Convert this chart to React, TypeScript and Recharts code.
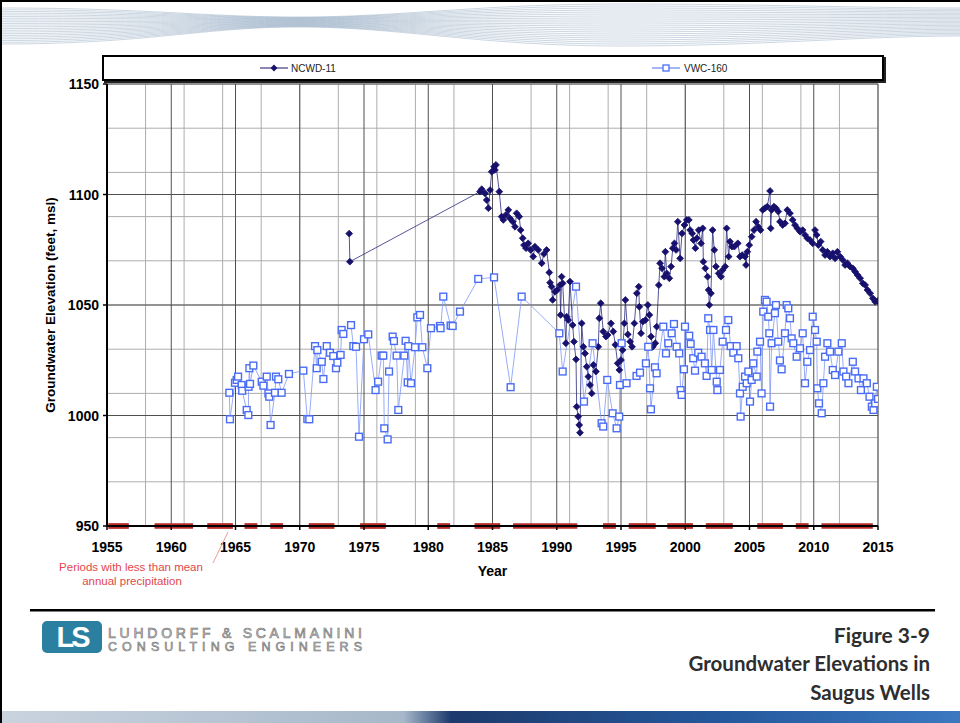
import React from 'react';
import { ComposedChart, Line, XAxis, YAxis, CartesianGrid, ReferenceArea, Legend } from 'recharts';

// NCWD-11 observations: [decimal year, elevation ft msl]
const ncwd11: [number, number][] = [
  [1973.85, 1082.3], [1973.9, 1069.6],
  [1984.03, 1101.3], [1984.16, 1102.4], [1984.42, 1100.5], [1984.55, 1097.5], [1984.68, 1093.8], [1984.81, 1102],
  [1984.94, 1110.3], [1985.12, 1112.6], [1985.19, 1111.1], [1985.27, 1113.4], [1985.53, 1101.3], [1985.71, 1090],
  [1985.84, 1088.5], [1986.05, 1090.8], [1986.23, 1093], [1986.36, 1089.2], [1986.57, 1087.7], [1986.75, 1085.4],
  [1986.88, 1091.5], [1987.08, 1090], [1987.19, 1083.9], [1987.35, 1080.2], [1987.45, 1077.1], [1987.61, 1075.7],
  [1987.78, 1077.9], [1987.97, 1074.9], [1988.17, 1071.9], [1988.3, 1076.4], [1988.56, 1074.9], [1988.83, 1068.9],
  [1989.0, 1073.1], [1989.21, 1074.9], [1989.42, 1064.7], [1989.48, 1060.1], [1989.6, 1058.3], [1989.68, 1052.3],
  [1989.86, 1056], [1990.04, 1056.8], [1990.25, 1059], [1990.3, 1045.5], [1990.38, 1062.8], [1990.46, 1059.8],
  [1990.71, 1032.7], [1990.77, 1044.7], [1990.89, 1043.2], [1991.03, 1060.6], [1991.24, 1040.9], [1991.34, 1033.4],
  [1991.5, 1025.4], [1991.55, 1004], [1991.67, 999.5], [1991.75, 995.7], [1991.81, 992.2], [1991.94, 1041.7],
  [1992.07, 1031.1], [1992.2, 1028.1], [1992.33, 1022.1], [1992.46, 1017.6], [1992.59, 1013.8], [1992.72, 1010],
  [1992.85, 1022.9], [1993.05, 1019.9], [1993.23, 1031.1], [1993.31, 1044], [1993.42, 1050.8], [1993.62, 1038],
  [1993.83, 1035.7], [1993.96, 1036.4], [1994.22, 1041.7], [1994.4, 1038], [1994.56, 1032], [1994.74, 1023.6],
  [1994.87, 1020.6], [1995.0, 1025.1], [1995.13, 1029.6], [1995.26, 1041.7], [1995.34, 1052.3], [1995.53, 1036.7],
  [1995.71, 1033.4], [1995.86, 1031.1], [1996.04, 1041.7], [1996.23, 1055.3], [1996.38, 1058.3], [1996.43, 1049.2],
  [1996.56, 1037.2], [1996.7, 1042.5], [1996.9, 1043.2], [1997.09, 1050], [1997.21, 1045.5], [1997.34, 1035.7],
  [1997.47, 1031.1], [1997.67, 1032.7], [1997.78, 1040.2], [1997.94, 1059], [1998.04, 1068.9], [1998.19, 1066.6],
  [1998.37, 1062.8], [1998.45, 1074.1], [1998.56, 1064.3], [1998.76, 1062.1], [1998.9, 1067.4], [1999.03, 1075.7],
  [1999.16, 1077.9], [1999.29, 1074.9], [1999.42, 1087.7], [1999.6, 1071.1], [1999.75, 1082.4], [1999.94, 1086.2],
  [2000.12, 1088.5], [2000.28, 1088.5], [2000.38, 1083.9], [2000.54, 1082.4], [2000.64, 1079.4], [2000.79, 1075.7],
  [2000.9, 1080.2], [2001.05, 1083.9], [2001.23, 1077.9], [2001.36, 1084.7], [2001.41, 1069.6], [2001.56, 1066.6],
  [2001.74, 1062.8], [2001.82, 1056.8], [2001.87, 1050], [2002.0, 1055.3], [2002.13, 1083.9], [2002.26, 1074.9],
  [2002.39, 1067.4], [2002.6, 1064.3], [2002.78, 1062.8], [2002.91, 1065.8], [2003.11, 1067.4], [2003.22, 1084.7],
  [2003.38, 1071.9], [2003.48, 1078.7], [2003.64, 1076.4], [2003.82, 1076.4], [2004.09, 1077.9], [2004.26, 1071.9],
  [2004.43, 1072.6], [2004.65, 1071.9], [2004.73, 1068.1], [2004.83, 1074.1], [2004.98, 1077.1], [2005.17, 1080.9],
  [2005.35, 1083.9], [2005.51, 1087.7], [2005.68, 1085.4], [2005.86, 1083.9], [2006.03, 1093], [2006.2, 1093.8],
  [2006.38, 1094.5], [2006.6, 1101.6], [2006.65, 1084.7], [2006.72, 1093], [2006.9, 1094.5], [2007.06, 1093.8],
  [2007.24, 1092.3], [2007.37, 1087.7], [2007.58, 1086.2], [2007.76, 1087], [2007.94, 1093], [2008.15, 1091.5],
  [2008.36, 1088.5], [2008.54, 1086.2], [2008.72, 1084.7], [2008.93, 1083.2], [2009.14, 1083.9], [2009.32, 1081.7],
  [2009.5, 1080.2], [2009.71, 1079.4], [2009.92, 1077.9], [2010.1, 1083.9], [2010.23, 1081.7], [2010.36, 1077.1],
  [2010.54, 1078.7], [2010.7, 1074.9], [2010.88, 1072.6], [2011.06, 1074.1], [2011.27, 1071.9], [2011.48, 1073.4],
  [2011.66, 1071.1], [2011.84, 1074.1], [2012.05, 1071.9], [2012.26, 1070.4], [2012.44, 1068.1], [2012.62, 1068.9],
  [2012.82, 1067.4], [2013.04, 1066.6], [2013.22, 1065.1], [2013.4, 1063.6], [2013.61, 1062.1], [2013.82, 1059.8],
  [2014.0, 1059], [2014.18, 1056.8], [2014.39, 1055.3], [2014.6, 1053], [2014.78, 1051.5], [2014.96, 1051.8],
];

// VWC-160 observations: [decimal year, elevation ft msl]
const vwc160: [number, number][] = [
  [1964.52, 1010.3], [1964.57, 998.3], [1964.96, 1014.8], [1965.09, 1016.1], [1965.2, 1017.6], [1965.48, 1013.8],
  [1965.52, 1011.2], [1965.87, 1002.5], [1966.0, 1000.2], [1966.02, 1013], [1966.08, 1021.4], [1966.13, 1014.3],
  [1966.39, 1022.6], [1967.04, 1015.3], [1967.17, 1013.5], [1967.43, 1017.6], [1967.56, 1010], [1967.63, 1008.5],
  [1967.73, 995.7], [1968.07, 1010.3], [1968.15, 1017.6], [1968.33, 1016.4], [1968.59, 1010.3], [1969.16, 1018.8],
  [1970.28, 1020.3], [1970.59, 998.4], [1970.74, 998.3], [1971.19, 1031.4], [1971.32, 1021.4], [1971.37, 1029.6],
  [1971.71, 1024.3], [1971.84, 1016.5], [1972.1, 1031.4], [1972.35, 1028.4], [1972.61, 1026.9], [1972.82, 1021.4],
  [1972.93, 1023.9], [1973.18, 1027.4], [1973.26, 1038.7], [1973.39, 1036.9], [1973.99, 1040.9], [1974.17, 1031.4],
  [1974.38, 1031.1], [1974.61, 990.4], [1975.0, 1034.5], [1975.33, 1036.7], [1975.9, 1011.5], [1976.1, 1015.3],
  [1976.37, 1027.1], [1976.5, 1027.1], [1976.58, 994.2], [1976.84, 989.2], [1976.95, 1019.9], [1977.23, 1035.7],
  [1977.33, 1033.7], [1977.54, 1027.1], [1977.67, 1002.5], [1978.14, 1027.1], [1978.24, 1033.8], [1978.4, 1015],
  [1978.45, 1031.4], [1978.66, 1014.6], [1978.97, 1030.9], [1979.15, 1044.4], [1979.36, 1045.5], [1979.54, 1030.9],
  [1979.93, 1021.4], [1980.21, 1039.5], [1980.91, 1040.5], [1980.96, 1039.5], [1981.17, 1053.8], [1981.74, 1040.7],
  [1981.9, 1040.5], [1982.47, 1047], [1983.89, 1061.8], [1985.12, 1062.5], [1986.41, 1012.8], [1987.27, 1053.8],
  [1990.2, 1037.2], [1990.46, 1019.9], [1991.5, 1058.3], [1992.12, 1006.3], [1992.79, 1032.7], [1993.49, 996.5],
  [1993.62, 995], [1993.93, 1016.1], [1994.35, 1001], [1994.66, 994.2], [1994.86, 999.5], [1994.92, 1013.8],
  [1995.05, 1032.7], [1995.43, 1014.6], [1996.21, 1017.9], [1996.48, 1019.4], [1996.94, 1023.6], [1997.12, 1031.1],
  [1997.26, 1012.3], [1997.33, 1002.8], [1997.64, 1021.8], [1997.77, 1019.1], [1998.29, 1040.2], [1998.5, 1028.1],
  [1998.68, 1032.7], [1998.94, 1037.2], [1999.12, 1041.4], [1999.33, 1031.1], [1999.53, 1028.1], [1999.64, 1011.5],
  [1999.72, 1009.3], [1999.9, 1020.9], [1999.98, 1040.2], [2000.31, 1036.1], [2000.42, 1032.4], [2000.62, 1025.9],
  [2000.76, 1020.3], [2001.01, 1028.4], [2001.27, 1026.6], [2001.53, 1023.6], [2001.66, 1017.9], [2001.79, 1044],
  [2001.93, 1038.7], [2002.06, 1020.6], [2002.19, 1038.7], [2002.45, 1015.3], [2002.5, 1011.5], [2002.7, 1020.6],
  [2002.91, 1033.4], [2003.17, 1038.7], [2003.35, 1043.2], [2003.53, 1031.4], [2003.74, 1028.4], [2004.0, 1031.4],
  [2004.13, 1025.9], [2004.26, 1010], [2004.31, 999.5], [2004.47, 1013], [2004.65, 1017.6], [2004.78, 1014.6],
  [2004.91, 1019.9], [2005.04, 1006.3], [2005.17, 1016.1], [2005.29, 1023.6], [2005.56, 1017.6], [2005.61, 1028.9],
  [2005.82, 1033.4], [2005.94, 1010], [2006.07, 1047], [2006.2, 1052.3], [2006.33, 1051.5], [2006.46, 1044.7],
  [2006.54, 1037.2], [2006.6, 1004], [2006.72, 1032.7], [2006.98, 1046.3], [2007.06, 1050], [2007.24, 1033.4],
  [2007.37, 1024.9], [2007.5, 1020.9], [2007.76, 1037.2], [2007.89, 1050], [2008.02, 1048.5], [2008.15, 1044],
  [2008.28, 1034.9], [2008.41, 1032.7], [2008.67, 1026.6], [2008.93, 1030.4], [2009.14, 1037.2], [2009.32, 1014.6],
  [2009.5, 1024.3], [2009.71, 1029.6], [2009.92, 1044.7], [2010.1, 1038.7], [2010.23, 1033.4], [2010.28, 1012.3],
  [2010.41, 1005.5], [2010.62, 1001], [2010.75, 1014.6], [2010.88, 1026.6], [2011.06, 1032.7], [2011.27, 1028.9],
  [2011.48, 1020.6], [2011.66, 1018.3], [2011.92, 1028.9], [2012.18, 1032.7], [2012.31, 1019.9], [2012.52, 1017.6],
  [2012.7, 1014.6], [2013.04, 1024.3], [2013.22, 1019.9], [2013.48, 1016.8], [2013.67, 1011.5], [2013.87, 1016.8],
  [2014.13, 1014.6], [2014.34, 1008.5], [2014.52, 1004], [2014.65, 1002.5], [2014.78, 1005.5], [2014.91, 1013],
  [2015.0, 1007.5],
];

// Periods with less than mean annual precipitation: [start year, end year]
const dryPeriods: [number, number][] = [
  [1955.1, 1956.7], [1958.7, 1961.7], [1962.8, 1964.8], [1965.7, 1966.7], [1967.7, 1968.7], [1970.7, 1972.7],
  [1974.7, 1976.7], [1980.7, 1981.7], [1983.6, 1985.6], [1986.6, 1991.6], [1993.6, 1994.6], [1995.6, 1997.7],
  [1998.6, 2000.6], [2001.6, 2003.7], [2005.6, 2007.6], [2008.6, 2009.6], [2010.6, 2014.6],
];

const xTicks = [1955, 1960, 1965, 1970, 1975, 1980, 1985, 1990, 1995, 2000, 2005, 2010, 2015];
const yTicks = [950, 1000, 1050, 1100, 1150];
const xMinor = Array.from({ length: 61 }, (_, i) => 1955 + i);
const yMinor = Array.from({ length: 21 }, (_, i) => 950 + i * 10);

const ncwdData = ncwd11.map(([x, v]) => ({ x, v }));
const vwcData = vwc160.map(([x, v]) => ({ x, v }));

const NAVY = '#17106c';
const BLUE = '#4a6cf4';
const FONT = '"Liberation Sans", Arial, sans-serif';
const TITLE_FONT = "Lato, 'Open Sans', sans-serif";

const Diamond = (p: any) => {
  const { cx, cy, index } = p;
  if (cx == null || cy == null) return <g key={`nd${index}`} />;
  const s = 3.4;
  return (
    <path key={`nd${index}`} d={`M${cx},${cy - s}L${cx + s},${cy}L${cx},${cy + s}L${cx - s},${cy}Z`}
      fill={NAVY} stroke={NAVY} strokeWidth={0.8} />
  );
};

const Square = (p: any) => {
  const { cx, cy, index } = p;
  if (cx == null || cy == null) return <g key={`vs${index}`} />;
  return (
    <rect key={`vs${index}`} x={cx - 3.4} y={cy - 3.4} width={6.8} height={6.8}
      fill="#ffffff" stroke={BLUE} strokeWidth={1.4} />
  );
};

const XTick = ({ x, y, payload }: any) => (
  <text x={x} y={y} dy={20} textAnchor="middle" fontFamily={FONT} fontWeight="bold" fontSize={14} fill="#000">
    {payload.value}
  </text>
);

const YTick = ({ x, y, payload }: any) => (
  <text x={x - 2} y={y} dy={5} textAnchor="end" fontFamily={FONT} fontWeight="bold" fontSize={14} fill="#000">
    {payload.value}
  </text>
);

const LegendBox = () => (
  <div style={{
    width: 782, height: 26, boxSizing: 'border-box', border: '2px solid #000',
    boxShadow: '2px 2px 0 #222', background: '#fff',
  }}>
    <svg width={778} height={22} style={{ display: 'block' }}>
      <line x1={156} x2={184} y1={11} y2={11} stroke={NAVY} strokeWidth={1} />
      <path d="M170,7.6L173.4,11L170,14.4L166.6,11Z" fill={NAVY} />
      <text x={187} y={15} fontFamily={FONT} fontSize={10} fill="#222">NCWD-11</text>
      <line x1={548} x2={576} y1={11} y2={11} stroke={BLUE} strokeWidth={1} />
      <rect x={559} y={8} width={6} height={6} fill="#fff" stroke={BLUE} strokeWidth={1.3} />
      <text x={580} y={15} fontFamily={FONT} fontSize={10} fill="#222">VWC-160</text>
    </svg>
  </div>
);

const wavePaths = Array.from({ length: 22 }, (_, i) => {
  const t = i / 21;
  const y0 = 8 + 36 * t;
  const yh = 17 + 10 * t;
  const yr = 4 + 42 * t;
  const ye = 8 + 28 * t;
  return `M0,${y0} C150,${y0} 200,${yh} 300,${yh} C400,${yh} 480,${yr} 620,${yr} S860,${ye} 960,${ye}`;
});

export default function App() {
  return (
    <div style={{ position: 'absolute', left: 0, top: 0, width: 960, height: 723, background: '#fff', overflow: 'hidden' }}>
      <svg width={960} height={723} style={{ position: 'absolute', left: 0, top: 0 }}>
        <defs>
          <linearGradient id="band" x1="0" x2="1" y1="0" y2="0">
            <stop offset="0" stopColor="#c9d3de" />
            <stop offset="0.42" stopColor="#a7b8ca" />
            <stop offset="0.47" stopColor="#1c3a6c" />
            <stop offset="0.75" stopColor="#24589c" />
            <stop offset="1" stopColor="#3b78c0" />
          </linearGradient>
        </defs>
        {wavePaths.map((d, i) => (
          <path key={i} d={d} fill="none" stroke="#8ea6be" strokeWidth={0.6} opacity={0.75} />
        ))}
        <rect x={0} y={711} width={960} height={12} fill="url(#band)" />
        <rect x={0} y={0} width={960} height={2} fill="#000" />
        <rect x={0} y={0} width={2} height={723} fill="#000" />
      </svg>

      <ComposedChart width={960} height={723} margin={{ top: 84, right: 82, bottom: 167, left: 47 }}
        style={{ position: 'absolute', left: 0, top: 0 }}>
        <CartesianGrid verticalValues={xMinor} horizontalValues={yMinor} stroke="#adadad" strokeWidth={1} />
        <CartesianGrid verticalValues={xTicks} horizontalValues={yTicks} stroke="#505050" strokeWidth={1} />
        <XAxis type="number" dataKey="x" domain={[1955, 2015]} ticks={xTicks} allowDataOverflow
          height={30} tick={<XTick />} tickSize={4} axisLine={{ stroke: '#000', strokeWidth: 2 }}
          tickLine={{ stroke: '#000', strokeWidth: 1.5 }}
          label={{ value: 'Year', position: 'bottom', offset: 10, style: { fontFamily: FONT, fontWeight: 'bold', fontSize: 14, fill: '#000' } }} />
        <YAxis type="number" domain={[950, 1150]} ticks={yTicks} allowDataOverflow width={60}
          tick={<YTick />} tickSize={4} axisLine={{ stroke: '#000', strokeWidth: 2 }}
          tickLine={{ stroke: '#000', strokeWidth: 1.5 }}
          label={{ value: 'Groundwater Elevation (feet, msl)', angle: -90, position: 'insideLeft', offset: 3,
            style: { textAnchor: 'middle', fontFamily: FONT, fontWeight: 'bold', fontSize: 13.5, fill: '#000' } }} />
        {dryPeriods.map(([a, b], i) => (
          <ReferenceArea key={`dry${i}`} x1={a} x2={b} y1={948.7} y2={951.3} ifOverflow="visible"
            fill="#b92d2b" fillOpacity={1} stroke="none" />
        ))}
        <Line data={ncwdData} dataKey="v" name="NCWD-11" type="linear" stroke="#2b2a78" strokeWidth={0.8}
          dot={Diamond} activeDot={false} isAnimationActive={false} legendType="diamond" />
        <Line data={vwcData} dataKey="v" name="VWC-160" type="linear" stroke="#7f97f6" strokeWidth={0.8}
          dot={Square} activeDot={false} isAnimationActive={false} legendType="square" />
        <Legend layout="horizontal" verticalAlign="middle" align="center"
          wrapperStyle={{ position: 'absolute', left: 102, top: 55, width: 782, height: 26 }}
          content={() => <LegendBox />} />
      </ComposedChart>

      <svg width={960} height={723} style={{ position: 'absolute', left: 0, top: 0, pointerEvents: 'none' }}>
        <text x={131} y={571} textAnchor="middle" fontFamily={FONT} fontSize={11.5} fill="#e2474b">Periods with less than mean</text>
        <text x={132} y={585} textAnchor="middle" fontFamily={FONT} fontSize={11.5} fill="#e2474b">annual precipitation</text>
        <line x1={213} y1={563} x2={228} y2={532} stroke="#ee9a9a" strokeWidth={1} />

        <rect x={30} y={609} width={905} height={2.5} fill="#000" />

        <rect x={42} y={621} width={60} height={32} rx={5} fill="#2b7fa0" />
        <text x={72} y={647} textAnchor="middle" fontFamily={FONT} fontWeight="bold" fontSize={29} fill="#fff" letterSpacing={-3}>LS</text>
        <text x={108} y={638} textLength={254} lengthAdjust="spacing" fontFamily={FONT} fontSize={14}
          fill="#d6d6d6" stroke="#6e6e6e" strokeWidth={0.6}>LUHDORFF &amp; SCALMANINI</text>
        <text x={108} y={651} textLength={254} lengthAdjust="spacing" fontFamily={FONT} fontSize={12.5}
          fill="#d6d6d6" stroke="#6e6e6e" strokeWidth={0.6}>CONSULTING ENGINEERS</text>

        <text x={930} y={643} textAnchor="end" fontFamily={TITLE_FONT} fontWeight="bold" fontSize={21} fill="#2e2e2e">Figure 3-9</text>
        <text x={930} y={671} textAnchor="end" fontFamily={TITLE_FONT} fontWeight="bold" fontSize={20.5} fill="#2e2e2e">Groundwater Elevations in</text>
        <text x={930} y={700} textAnchor="end" fontFamily={TITLE_FONT} fontWeight="bold" fontSize={20.5} fill="#2e2e2e">Saugus Wells</text>
      </svg>
    </div>
  );
}
